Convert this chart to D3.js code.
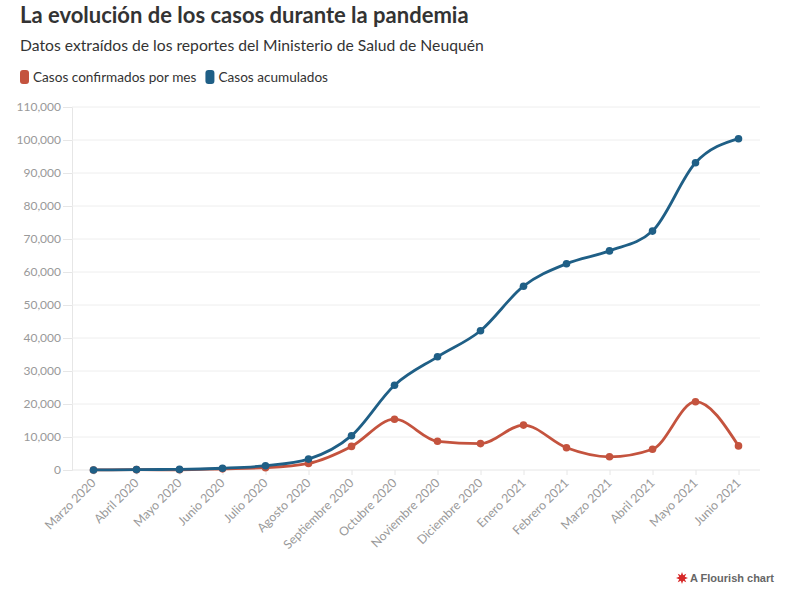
<!DOCTYPE html>
<html><head><meta charset="utf-8">
<script src="https://cdn.jsdelivr.net/npm/d3@7"></script>
<style>
body{margin:0;background:#fff;}
svg{display:block;font-family:Lato,"Noto Sans",sans-serif;}
</style></head>
<body><svg id="c" width="795" height="594"></svg>
<script>
const months = ["Marzo 2020","Abril 2020","Mayo 2020","Junio 2020","Julio 2020","Agosto 2020","Septiembre 2020","Octubre 2020","Noviembre 2020","Diciembre 2020","Enero 2021","Febrero 2021","Marzo 2021","Abril 2021","Mayo 2021","Junio 2021"];
const confirmadosPorMes = [20,100,60,350,700,2000,7150,15400,8700,8000,13600,6750,4000,6300,20700,7300];
const acumulados = [20,120,180,530,1300,3300,10400,25700,34300,42200,55700,62500,66400,72400,93100,100400];
const yTicks = [0,10000,20000,30000,40000,50000,60000,70000,80000,90000,100000,110000];
const seriesNames = ["Casos confirmados por mes","Casos acumulados"];
const colors = ["#c4533e","#1f5f86"];

const svg = d3.select("#c");
const mLeft = 72, mRight = 760, mTop = 107, mBottom = 470;
const x = d3.scalePoint().domain(months).range([mLeft,mRight]).padding(0.5);
const y = d3.scaleLinear().domain([0,110000]).range([mBottom,mTop]);

// title
svg.append("text").attr("x",20).attr("y",23).attr("font-size",22).attr("font-weight",700).attr("fill","#333")
  .text("La evolución de los casos durante la pandemia");
svg.append("text").attr("x",20).attr("y",51).attr("font-size",15.7).attr("fill","#333")
  .text("Datos extraídos de los reportes del Ministerio de Salud de Neuquén");

// legend
const lg = svg.append("g").attr("transform","translate(20,70)");
let lx = 0;
seriesNames.forEach((n,i)=>{
  lg.append("rect").attr("x",lx).attr("y",0).attr("width",9).attr("height",14).attr("rx",3).attr("fill",colors[i]);
  const t = lg.append("text").attr("x",lx+13).attr("y",12).attr("font-size",13.6).attr("fill","#333").text(n);
  lx += 13 + t.node().getComputedTextLength() + 9;
});

// y grid & axis
const yAxis = d3.axisLeft(y).tickValues(yTicks).tickSize(9).tickPadding(2).tickFormat(d3.format(","));
const ga = svg.append("g").attr("transform",`translate(${mLeft},0)`).call(yAxis);
ga.select(".domain").attr("stroke","#e6e6e6");
ga.selectAll(".tick line").attr("stroke","#e6e6e6");
ga.selectAll(".tick text").attr("fill","#999").attr("font-size",12).attr("font-family","Lato,'Noto Sans',sans-serif");
svg.append("g").selectAll("line").data(yTicks.filter(d=>d>0)).join("line")
  .attr("x1",mLeft).attr("x2",mRight).attr("y1",d=>y(d)).attr("y2",d=>y(d))
  .attr("stroke","#eeeeee");

// x axis
const xAxis = d3.axisBottom(x).tickSize(5).tickPadding(3);
const gx = svg.append("g").attr("transform",`translate(0,${mBottom})`).call(xAxis);
gx.select(".domain").attr("stroke","#e6e6e6").attr("d",`M${mLeft},0H${mRight}`);
gx.selectAll(".tick line").attr("stroke","#e6e6e6");
gx.selectAll(".tick text").attr("fill","#999").attr("font-size",12.3).attr("font-family","Lato,'Noto Sans',sans-serif")
  .attr("text-anchor","end").attr("dy",0).attr("transform","translate(-3,8) rotate(-45)");

// lines
const line = d3.line().x((d,i)=>x(months[i])).y(d=>y(d)).curve(d3.curveMonotoneX);
[confirmadosPorMes, acumulados].forEach((s,i)=>{
  const g = svg.append("g");
  g.append("path").attr("d",line(s)).attr("fill","none").attr("stroke",colors[i]).attr("stroke-width",2.8);
  g.selectAll("circle").data(s).join("circle")
    .attr("cx",(d,j)=>x(months[j])).attr("cy",d=>y(d)).attr("r",3.8).attr("fill",colors[i]);
});

// footer
const fg = svg.append("g").attr("transform","translate(682,578)");
const star = d3.range(16).map(k=>{const r = k%2?3:6; const a = k*Math.PI/8; return [r*Math.cos(a), r*Math.sin(a)];});
fg.append("path").attr("d","M"+star.join("L")+"Z").attr("fill","#d62828");
fg.append("text").attr("x",8).attr("y",4).attr("font-size",11).attr("font-weight",700).attr("fill","#666")
  .attr("font-family","Arial,'Liberation Sans',sans-serif").text("A Flourish chart");
</script></body></html>
